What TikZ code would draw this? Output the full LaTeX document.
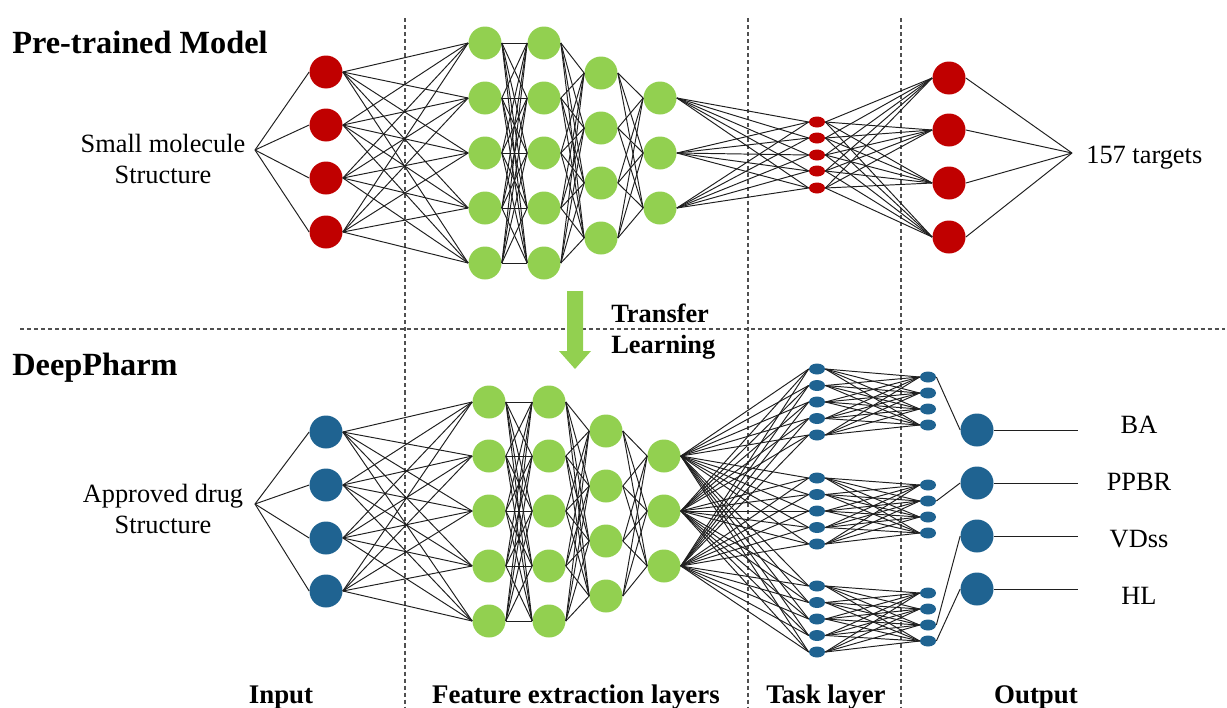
\documentclass[tikz,border=0pt]{standalone}
\usepackage{fontspec}
\setmainfont{Liberation Serif}
\usetikzlibrary{shapes.geometric}
\definecolor{netred}{HTML}{C00000}
\definecolor{netgreen}{HTML}{92D050}
\definecolor{netblue}{HTML}{1F6391}
\definecolor{dashgray}{HTML}{505050}

\begin{document}
\begin{tikzpicture}[
  x=0.02cm, y=-0.02cm,
  every node/.style={text=black, inner sep=0pt, font=\fontsize{15}{18.1}\selectfont},
  link/.style={black!88, line width=0.55pt},
  divider/.style={dashgray, line width=0.7pt, dash pattern=on 2.3pt off 1.7pt},
  neuron/.style={circle, minimum size=0.66cm},
  unit/.style={ellipse, minimum width=0.32cm, minimum height=0.22cm},
  title/.style={font=\fontsize{18.4}{22}\selectfont\bfseries, anchor=base west},
  colname/.style={font=\fontsize{15.3}{18}\selectfont\bfseries, anchor=base},
]

% Page
\useasboundingbox (0,0) rectangle (1227,707);

% Dashed separators
\draw[divider] (405,18) -- (405,707);
\draw[divider] (748,18) -- (748,707);
\draw[divider] (901,18) -- (901,707);
\draw[divider] (20,329) -- (1225,329);

% Titles
\node[title] (pretitle) at (12,53) {Pre-trained Model};
\node[title] (deeptitle) at (12,375) {DeepPharm};

% ======== Pre-trained model ========
\node[align=center] (pinput) at (163,159) {Small molecule\\Structure};
\coordinate (psrc) at (255,150);
\foreach \y [count=\i] in {72,125,178,232}
  \node[neuron, fill=netred] (pin\i) at (326,\y) {};
\foreach \y [count=\i] in {43,98,153,208,263} {
  \node[neuron, fill=netgreen] (pa\i) at (485,\y) {};
  \node[neuron, fill=netgreen] (pb\i) at (544,\y) {};
}
\foreach \y [count=\i] in {73,128,183,238}
  \node[neuron, fill=netgreen] (pc\i) at (601,\y) {};
\foreach \y [count=\i] in {98,153,208}
  \node[neuron, fill=netgreen] (pd\i) at (660,\y) {};
\foreach \y [count=\i] in {122,138,155,171,188}
  \node[unit, fill=netred] (ptask\i) at (817,\y) {};
\foreach \y [count=\i] in {78,130,183,237}
  \node[neuron, fill=netred] (pout\i) at (949,\y) {};
\coordinate (psink) at (1072,153);
\node[anchor=base west] (ptargets) at (1086,163) {157 targets};

% Connections
\foreach \i in {1,...,4} {
  \draw[link] (psrc) -- (pin\i.west);
  \foreach \j in {1,...,5} \draw[link] (pin\i.east) -- (pa\j.west);
}
\foreach \i in {1,...,5} {
  \foreach \j in {1,...,5} \draw[link] (pa\i.east) -- (pb\j.west);
  \foreach \j in {1,...,4} \draw[link] (pb\i.east) -- (pc\j.west);
}
\foreach \i in {1,...,4}
  \foreach \j in {1,...,3} \draw[link] (pc\i.east) -- (pd\j.west);
\foreach \i in {1,...,3}
  \foreach \j in {1,...,5} \draw[link] (pd\i.east) -- (ptask\j.west);
\foreach \i in {1,...,5}
  \foreach \j in {1,...,4} \draw[link] (ptask\i.east) -- (pout\j.west);
\foreach \i in {1,...,4} \draw[link] (pout\i.east) -- (psink);

% Transfer learning arrow
\fill[netgreen] (567,291) -- (583,291) -- (583,351) -- (591,351) -- (575,369)
  -- (559,351) -- (567,351) -- cycle;
\node[font=\fontsize{15}{17.6}\selectfont\bfseries, align=left, anchor=west]
  (transfer) at (611,332) {Transfer\\Learning};

% ======== DeepPharm ========
\node[align=center] (dinput) at (163,509) {Approved drug\\Structure};
\coordinate (dsrc) at (255,504);
\foreach \y [count=\i] in {432,485,538,591}
  \node[neuron, fill=netblue] (din\i) at (326,\y) {};
\foreach \y [count=\i] in {402,456,511,566,621} {
  \node[neuron, fill=netgreen] (da\i) at (489,\y) {};
  \node[neuron, fill=netgreen] (db\i) at (549,\y) {};
}
\foreach \y [count=\i] in {431,486,541,596}
  \node[neuron, fill=netgreen] (dc\i) at (606,\y) {};
\foreach \y [count=\i] in {456,511,566}
  \node[neuron, fill=netgreen] (dd\i) at (664,\y) {};
% task layer: three groups
\foreach \base [count=\g] in {369,478,586}
  \foreach \k in {1,...,5}
    \node[unit, fill=netblue] (dt\g-\k) at (817,{\base+16.5*(\k-1)}) {};
\foreach \base [count=\g] in {377,485,593}
  \foreach \k in {1,...,4}
    \node[unit, fill=netblue] (du\g-\k) at (928,{\base+16*(\k-1)}) {};
\foreach \y [count=\i] in {430,483,536,589} {
  \node[neuron, fill=netblue] (dout\i) at (977,\y) {};
  \coordinate (dend\i) at (1078,\y);
}
\foreach \t/\y [count=\i] in {BA/433,PPBR/490,VDss/547,HL/604}
  \node[anchor=base] (dlabel\i) at (1139,\y) {\t};

% Connections
\foreach \i in {1,...,4} {
  \draw[link] (dsrc) -- (din\i.west);
  \foreach \j in {1,...,5} \draw[link] (din\i.east) -- (da\j.west);
}
\foreach \i in {1,...,5} {
  \foreach \j in {1,...,5} \draw[link] (da\i.east) -- (db\j.west);
  \foreach \j in {1,...,4} \draw[link] (db\i.east) -- (dc\j.west);
}
\foreach \i in {1,...,4}
  \foreach \j in {1,...,3} \draw[link] (dc\i.east) -- (dd\j.west);
\foreach \i in {1,...,3}
  \foreach \g in {1,2,3}
    \foreach \k in {1,...,5} \draw[link] (dd\i.east) -- (dt\g-\k.west);
\foreach \g in {1,2,3}
  \foreach \k in {1,...,5}
    \foreach \m in {1,...,4} \draw[link] (dt\g-\k.east) -- (du\g-\m.west);
\draw[link] (du1-1.east) -- (dout1.west);
\draw[link] (du2-2.east) -- (dout2.west);
\draw[link] (du3-3.east) -- (dout3.west);
\draw[link] (du3-4.east) -- (dout4.west);
\foreach \i in {1,...,4} \draw[link] (dout\i.east) -- (dend\i);

% Column names
\node[colname] (cinput) at (281,703) {Input};
\node[colname] (cfeat) at (576,703) {Feature extraction layers};
\node[colname] (ctask) at (826,703) {Task layer};
\node[colname] (cout) at (1036,703) {Output};

\end{tikzpicture}
\end{document}
